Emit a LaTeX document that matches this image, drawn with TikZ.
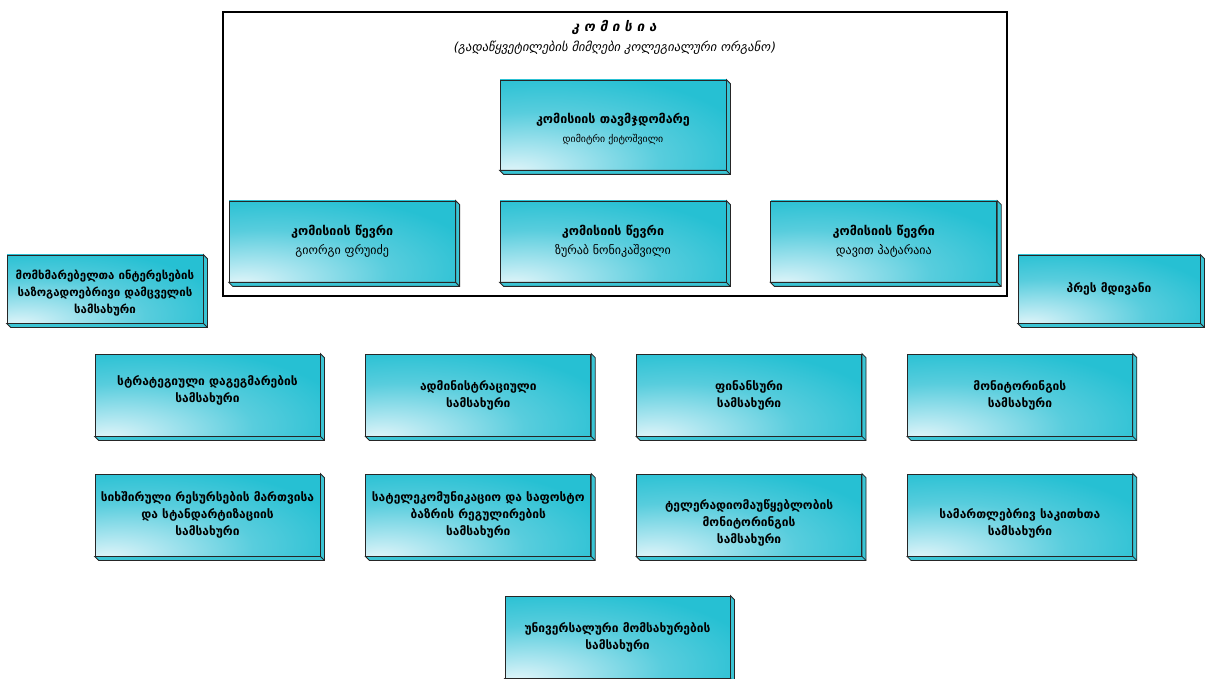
\documentclass[tikz,border=0pt]{standalone}
\usepackage{fontspec}
\setmainfont{DejaVu Sans}
\newfontfamily\titlefont{DejaVu Sans}[FakeSlant=0.2]
\usetikzlibrary{positioning, calc}

\definecolor{boxdark}{RGB}{38,192,211}
\definecolor{boxmid}{RGB}{88,205,221}
\definecolor{boxpale}{RGB}{170,229,239}
\definecolor{boxlight}{RGB}{228,246,250}
\definecolor{boxside}{RGB}{58,196,212}

\pgfdeclareradialshading{boxglow}{\pgfpoint{-23bp}{-27bp}}{%
    color(0bp)=(boxlight); color(11bp)=(boxpale); color(27bp)=(boxmid);
    color(44bp)=(boxdark); color(100bp)=(boxdark)}

\tikzset{
    unit/.style={draw=black!85, line width=0.8pt, shade, shading=boxglow,
        align=center, inner sep=2pt,
        minimum width=225pt, minimum height=82pt,
        font=\bfseries\fontsize{12}{17}\selectfont},
    board/.style={unit, minimum width=226pt, minimum height=81pt,
        font=\bfseries\fontsize{12.5}{19}\selectfont},
    side/.style={draw=black!85, line width=0.8pt, fill=boxside}
}

\begin{document}
\begin{tikzpicture}[x=1pt, y=-1pt, node distance=45pt]
    \useasboundingbox (0,0) rectangle (1208,679);
    \clip (0,0) rectangle (1208,679);
    \fill[white] (0,0) rectangle (1208,679);

    % commission frame
    \node (frame) [draw=black, line width=1.6pt, minimum width=784pt, minimum height=284pt] at (615,154) {};
    \node (title) at (614,27) {\titlefont\bfseries\fontsize{13.5}{15}\selectfont კ ო მ ი ს ი ა};
    \node (subtitle) at (614,48) {\titlefont\fontsize{12.5}{14}\selectfont (გადაწყვეტილების მიმღები კოლეგიალური ორგანო)};

    \node (chair) [board, minimum height=90pt] at (613,125)
        {\rule{0pt}{18pt}კომისიის თავმჯდომარე\\ {\fontsize{9.8}{12}\selectfont\mdseries დიმიტრი ქიტოშვილი}};
    \node (memB) [board] at (613,241.5)
        {კომისიის წევრი\\ {\fontsize{12}{14}\selectfont\mdseries ზურაბ ნონიკაშვილი}};
    \node (memA) [board, left=44pt of memB]
        {კომისიის წევრი\\ {\fontsize{12}{14}\selectfont\mdseries გიორგი ფრუიძე}};
    \node (memC) [board, right=44pt of memB]
        {კომისიის წევრი\\ {\fontsize{12}{14}\selectfont\mdseries დავით პატარაია}};

    \node (consumer) [unit, minimum width=196pt, minimum height=68pt,
        font=\bfseries\fontsize{11.5}{17}\selectfont] at (105,289)
        {\rule{0pt}{18pt}მომხმარებელთა ინტერესების\\ საზოგადოებრივი დამცველის\\ სამსახური};
    \node (press) [unit, minimum width=182pt, minimum height=68pt] at (1109,289) {პრეს მდივანი};

    % departments
    \node (strat) [unit] at (207.5,395) {სტრატეგიული დაგეგმარების\\ სამსახური\rule[-12pt]{0pt}{0pt}};
    \node (admin) [unit, right=of strat] {ადმინისტრაციული\\ სამსახური};
    \node (fin) [unit, right=of admin] {ფინანსური\\ სამსახური};
    \node (monit) [unit, right=of fin] {მონიტორინგის\\ სამსახური};

    \node (freq) [unit] at (207.5,515) {სიხშირული რესურსების მართვისა\\ და სტანდარტიზაციის\\ სამსახური};
    \node (telecom) [unit, right=of freq] {სატელეკომუნიკაციო და საფოსტო\\ ბაზრის რეგულირების\\ სამსახური};
    \node (broadcast) [unit, right=of telecom] {\rule{0pt}{26pt}ტელერადიომაუწყებლობის\\ მონიტორინგის\\ სამსახური};
    \node (legal) [unit, right=of broadcast] {\rule{0pt}{26pt}სამართლებრივ საკითხთა\\ სამსახური};

    \node (univ) [unit] at (617.5,637) {უნივერსალური მომსახურების\\ სამსახური};

    % extruded sides
    \foreach \b in {chair, memA, memB, memC, consumer, press, strat, admin, fin, monit, freq, telecom, broadcast, legal, univ} {
        \draw[side] (\b.north east) -- ++(4pt,-4pt) -- ($(\b.south east)+(4pt,-4pt)$)
            -- ($(\b.south west)+(4pt,-4pt)$) -- (\b.south west) -- (\b.south east) -- cycle;
        \draw[black!85, line width=0.8pt] (\b.south east) -- ++(4pt,-4pt);
    }
\end{tikzpicture}
\end{document}
